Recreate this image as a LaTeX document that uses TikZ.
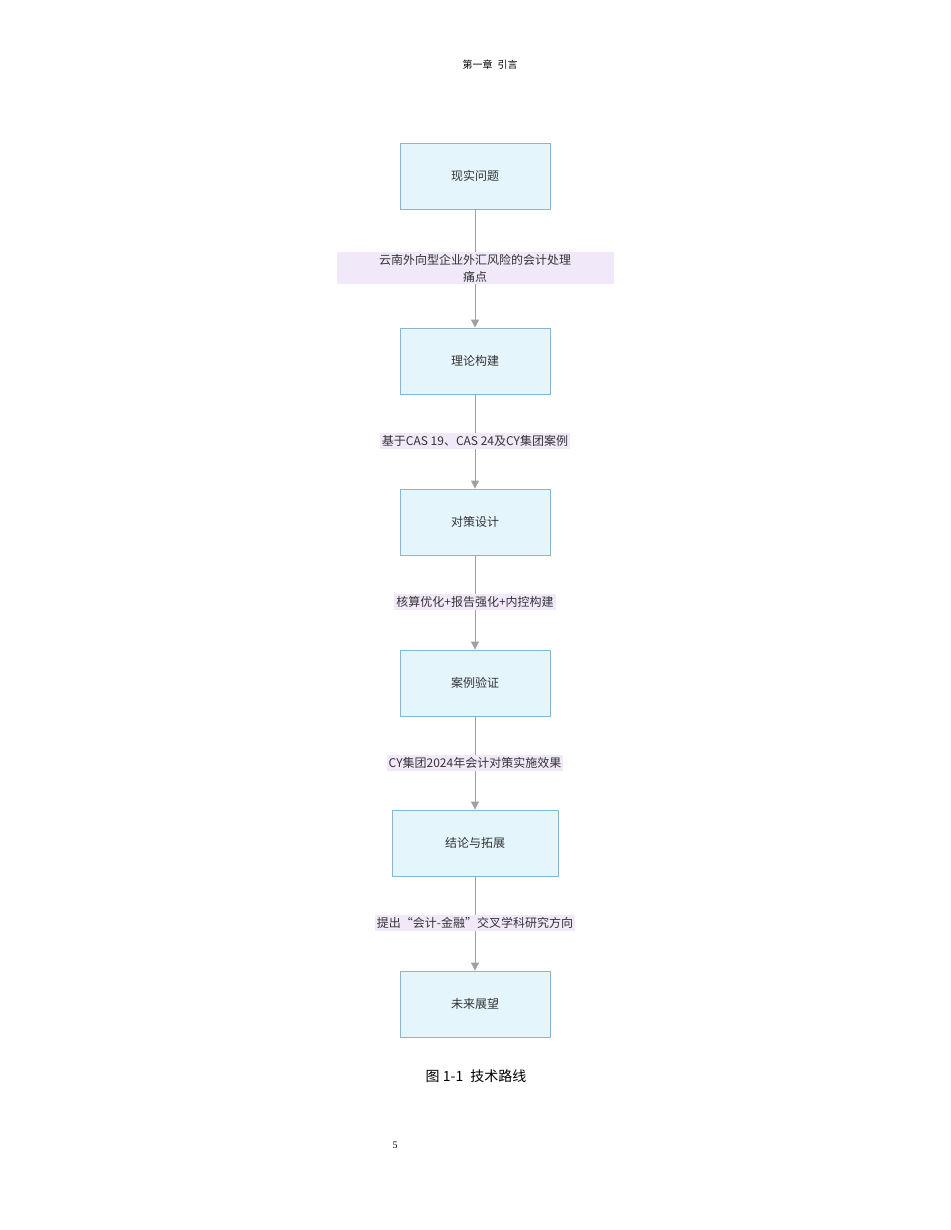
\documentclass[tikz,border=0pt]{standalone}
\usepackage{fontspec}
\setmainfont{Liberation Serif}
\newfontfamily\cjk{Noto Sans CJK SC}
\usetikzlibrary{arrows.meta,positioning}
\definecolor{boxfill}{HTML}{E5F5FC}
\definecolor{boxline}{HTML}{86B6D4}
\definecolor{labfill}{HTML}{F1E9FA}
\definecolor{linegray}{HTML}{A0A0A0}
\tikzset{
  stage/.style={draw=boxline, fill=boxfill, line width=0.8pt, minimum width=150pt, minimum height=66pt, font=\cjk\fontsize{12}{14}\selectfont, text=black!80},
  lab/.style={fill=labfill, inner sep=2pt, font=\cjk\fontsize{12}{17}\selectfont, text=black!80, align=center},
  flow/.style={draw=linegray, line width=0.8pt},
  flowarr/.style={flow, -{Triangle[length=8pt,width=8pt]}}
}
\begin{document}
\begin{tikzpicture}[x=1pt,y=-1pt]
\useasboundingbox (0,0) rectangle (950,1230);
% header and caption
\node[font=\cjk\fontsize{10}{12}\selectfont] (head) at (490,65) {第一章\hspace{0.5em}引言};
\node[font=\cjk\fontsize{14}{16}\selectfont] (cap) at (476,1076) {图 1-1\hspace{0.5em}技术路线};
\node[font=\fontsize{10}{12}\selectfont] (pnum) at (395,1145) {5};
% stages
\node[stage] (s1) at (475,176) {现实问题};
\node[stage] (s2) at (475,361) {理论构建};
\node[stage] (s3) at (475,522) {对策设计};
\node[stage] (s4) at (475,683) {案例验证};
\node[stage, minimum width=166pt] (s5) at (475,843) {结论与拓展};
\node[stage] (s6) at (475,1004) {未来展望};
% labels
\node[lab, text width=273pt] (l1) at (475,268) {云南外向型企业外汇风险的会计处理\\痛点};
\node[lab] (l2) at (475,441) {基于CAS 19、CAS 24及CY集团案例};
\node[lab] (l3) at (475,602) {核算优化+报告强化+内控构建};
\node[lab] (l4) at (475,763) {CY集团2024年会计对策实施效果};
\node[lab] (l5) at (475,923) {提出“会计-金融”交叉学科研究方向};
% connectors
\foreach \a/\b/\c in {s1/l1/s2, s2/l2/s3, s3/l3/s4, s4/l4/s5, s5/l5/s6} {
  \draw[flow] (\a) -- (\b);
  \draw[flowarr] (\b) -- (\c);
}
\end{tikzpicture}
\end{document}
